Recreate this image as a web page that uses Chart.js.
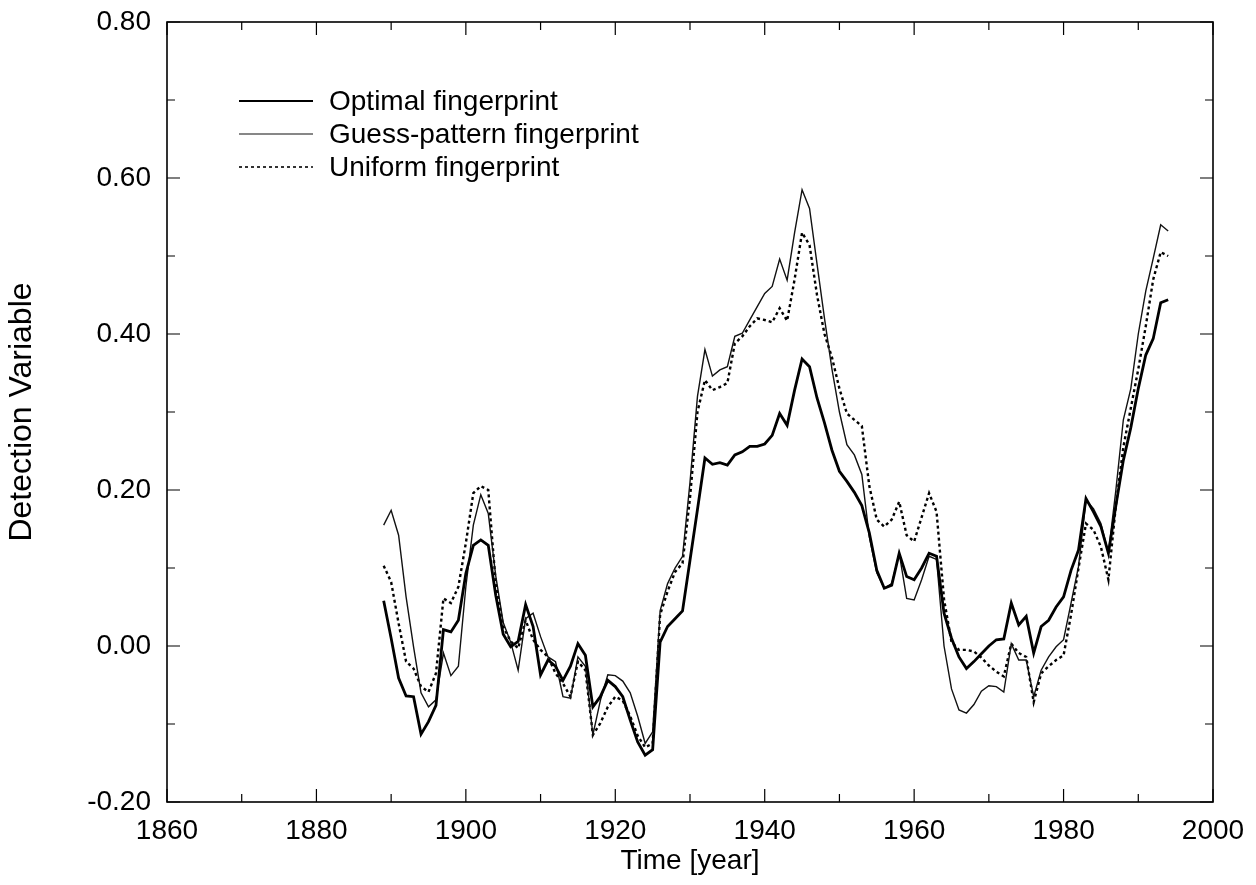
<!DOCTYPE html>
<html>
<head>
<meta charset="utf-8">
<title>Detection Variable</title>
<script src="https://cdn.jsdelivr.net/npm/chart.js@4.4.1/dist/chart.umd.min.js"></script>
<style>
  html, body { margin: 0; padding: 0; background: #fff; }
  #wrap { width: 1256px; height: 885px; }
</style>
</head>
<body>
<div id="wrap"><canvas id="fp"></canvas></div>
<script>
// annual values, 1889 .. 1994
const firstYear = 1889;

const optimal = [
  0.058,
  0.010, -0.041, -0.064, -0.065, -0.113, -0.097, -0.076, 0.021, 0.018, 0.033,
  0.093, 0.129, 0.136, 0.129, 0.065, 0.015, -0.001, 0.006, 0.053, 0.025,
  -0.037, -0.018, -0.026, -0.044, -0.026, 0.003, -0.012, -0.078, -0.065, -0.044,
  -0.052, -0.065, -0.095, -0.123, -0.140, -0.133, 0.005, 0.025, 0.035, 0.045,
  0.110, 0.175, 0.241, 0.233, 0.235, 0.232, 0.245, 0.249, 0.256, 0.256,
  0.259, 0.270, 0.298, 0.283, 0.328, 0.368, 0.358, 0.318, 0.286, 0.251,
  0.224, 0.211, 0.197, 0.180, 0.145, 0.097, 0.074, 0.078, 0.119, 0.089,
  0.085, 0.100, 0.119, 0.115, 0.042, 0.010, -0.014, -0.029, -0.020, -0.010,
  0.000, 0.008, 0.009, 0.055, 0.027, 0.038, -0.009, 0.025, 0.033, 0.050,
  0.063, 0.097, 0.123, 0.189, 0.172, 0.153, 0.119, 0.180, 0.238, 0.280,
  0.330, 0.373, 0.394, 0.440, 0.444
];

const guess = [
  0.155,
  0.174, 0.142, 0.063, -0.001, -0.060, -0.078, -0.069, -0.009, -0.038, -0.026,
  0.076, 0.155, 0.194, 0.170, 0.090, 0.030, 0.005, -0.031, 0.035, 0.042,
  0.012, -0.014, -0.020, -0.065, -0.067, -0.014, -0.026, -0.114, -0.070, -0.037,
  -0.038, -0.045, -0.060, -0.090, -0.125, -0.110, 0.045, 0.080, 0.100, 0.115,
  0.210, 0.320, 0.380, 0.346, 0.354, 0.358, 0.397, 0.401, 0.418, 0.435,
  0.452, 0.461, 0.496, 0.469, 0.530, 0.585, 0.561, 0.490, 0.420, 0.355,
  0.300, 0.258, 0.245, 0.220, 0.140, 0.094, 0.074, 0.080, 0.119, 0.061,
  0.059, 0.085, 0.115, 0.111, 0.000, -0.055, -0.082, -0.086, -0.075, -0.058,
  -0.051, -0.052, -0.059, 0.003, -0.018, -0.018, -0.065, -0.031, -0.014, -0.001,
  0.008, 0.055, 0.102, 0.187, 0.176, 0.157, 0.119, 0.200, 0.290, 0.330,
  0.400, 0.455, 0.497, 0.540, 0.532
];

const uniform = [
  0.103,
  0.082, 0.029, -0.020, -0.029, -0.052, -0.059, -0.035, 0.061, 0.055, 0.076,
  0.132, 0.196, 0.205, 0.200, 0.080, 0.025, 0.006, -0.003, 0.033, 0.008,
  -0.005, -0.014, -0.035, -0.048, -0.065, -0.020, -0.031, -0.114, -0.099, -0.078,
  -0.065, -0.070, -0.090, -0.115, -0.130, -0.125, 0.040, 0.070, 0.095, 0.106,
  0.190, 0.300, 0.341, 0.328, 0.332, 0.337, 0.388, 0.397, 0.410, 0.420,
  0.418, 0.415, 0.433, 0.417, 0.470, 0.530, 0.514, 0.450, 0.400, 0.370,
  0.330, 0.298, 0.290, 0.282, 0.205, 0.162, 0.153, 0.162, 0.185, 0.142,
  0.134, 0.165, 0.196, 0.172, 0.060, 0.005, -0.005, -0.005, -0.007, -0.015,
  -0.025, -0.033, -0.039, 0.003, -0.009, -0.014, -0.072, -0.035, -0.026, -0.018,
  -0.012, 0.040, 0.100, 0.157, 0.149, 0.127, 0.085, 0.180, 0.255, 0.305,
  0.355, 0.410, 0.470, 0.505, 0.500
];

const seriesNames = ['Optimal fingerprint', 'Guess-pattern fingerprint', 'Uniform fingerprint'];
const years = optimal.map((_, i) => firstYear + i);

const FONT = "'Liberation Sans', Arial, Helvetica, sans-serif";

function pts(vals) {
  return years.map((yr, i) => ({x: yr, y: vals[i]}));
}

// box round the plot with ticks pointing inwards on all four sides
const frame = {
  id: 'frame',
  afterDatasetsDraw(chart) {
    const {ctx, chartArea: a, scales: {x, y}} = chart;
    ctx.save();
    ctx.strokeStyle = '#000';
    ctx.lineWidth = 1.6;
    ctx.strokeRect(a.left, a.top, a.right - a.left, a.bottom - a.top);
    ctx.lineWidth = 1.2;
    ctx.beginPath();
    for (let v = x.min; v <= x.max; v += 10) {
      const px = x.getPixelForValue(v);
      const len = v % 20 === 0 ? 13 : 8;
      ctx.moveTo(px, a.bottom); ctx.lineTo(px, a.bottom - len);
      ctx.moveTo(px, a.top); ctx.lineTo(px, a.top + len);
    }
    for (let k = -2; k <= 8; k++) {
      const py = y.getPixelForValue(k / 10);
      const len = k % 2 === 0 ? 13 : 8;
      ctx.moveTo(a.left, py); ctx.lineTo(a.left + len, py);
      ctx.moveTo(a.right, py); ctx.lineTo(a.right - len, py);
    }
    ctx.stroke();
    ctx.restore();
  }
};

// legend drawn inside the plot, top left
const innerLegend = {
  id: 'innerLegend',
  afterDraw(chart) {
    const ctx = chart.ctx;
    ctx.save();
    ctx.font = '28px ' + FONT;
    ctx.textBaseline = 'middle';
    ctx.fillStyle = '#000';
    chart.data.datasets.forEach((ds, i) => {
      const yy = 101 + i * 33;
      ctx.strokeStyle = ds.borderColor;
      ctx.lineWidth = ds.legendWidth;
      ctx.setLineDash(ds.borderDash || []);
      ctx.beginPath();
      ctx.moveTo(239, yy);
      ctx.lineTo(313, yy);
      ctx.stroke();
      ctx.setLineDash([]);
      ctx.fillText(ds.label, 329, yy + 1);
    });
    ctx.restore();
  }
};

new Chart(document.getElementById('fp'), {
  type: 'line',
  data: {
    datasets: [
      {
        label: seriesNames[0],
        data: pts(optimal),
        borderColor: '#000',
        borderWidth: 2.8,
        legendWidth: 2,
      },
      {
        label: seriesNames[1],
        data: pts(guess),
        borderColor: '#111',
        borderWidth: 1.4,
        legendWidth: 1.2,
      },
      {
        label: seriesNames[2],
        data: pts(uniform),
        borderColor: '#000',
        borderWidth: 2.4,
        borderDash: [3, 3],
        legendWidth: 1.6,
      }
    ]
  },
  options: {
    responsive: true,
    maintainAspectRatio: false,
    animation: false,
    events: [],
    elements: {
      point: {radius: 0},
      line: {tension: 0, fill: false}
    },
    layout: {padding: {top: 22, right: 43, left: 0, bottom: 0}},
    plugins: {
      legend: {display: false},
      tooltip: {enabled: false}
    },
    scales: {
      x: {
        type: 'linear',
        min: 1860,
        max: 2000,
        grid: {display: false, drawTicks: false},
        border: {display: false},
        ticks: {
          stepSize: 20,
          padding: 12,
          color: '#000',
          font: {family: FONT, size: 28},
          callback: v => String(v)
        },
        title: {
          display: true,
          text: 'Time [year]',
          color: '#000',
          font: {family: FONT, size: 28},
          padding: {top: 0, bottom: 7}
        },
        afterFit(scale) {
          scale.height = 83;
          scale.paddingLeft = 0;
          scale.paddingRight = 0;
        }
      },
      y: {
        min: -0.2,
        max: 0.8,
        grid: {display: false, drawTicks: false},
        border: {display: false},
        ticks: {
          stepSize: 0.2,
          padding: 16,
          color: '#000',
          font: {family: FONT, size: 28},
          callback: v => (Math.abs(v) < 1e-9 ? 0 : v).toFixed(2)
        },
        title: {
          display: true,
          text: 'Detection Variable',
          color: '#000',
          font: {family: FONT, size: 32},
          padding: {top: 3, bottom: 0}
        },
        afterFit(scale) {
          scale.width = 167;
          scale.paddingTop = 0;
          scale.paddingBottom = 0;
        }
      }
    }
  },
  plugins: [frame, innerLegend]
});
</script>
</body>
</html>
